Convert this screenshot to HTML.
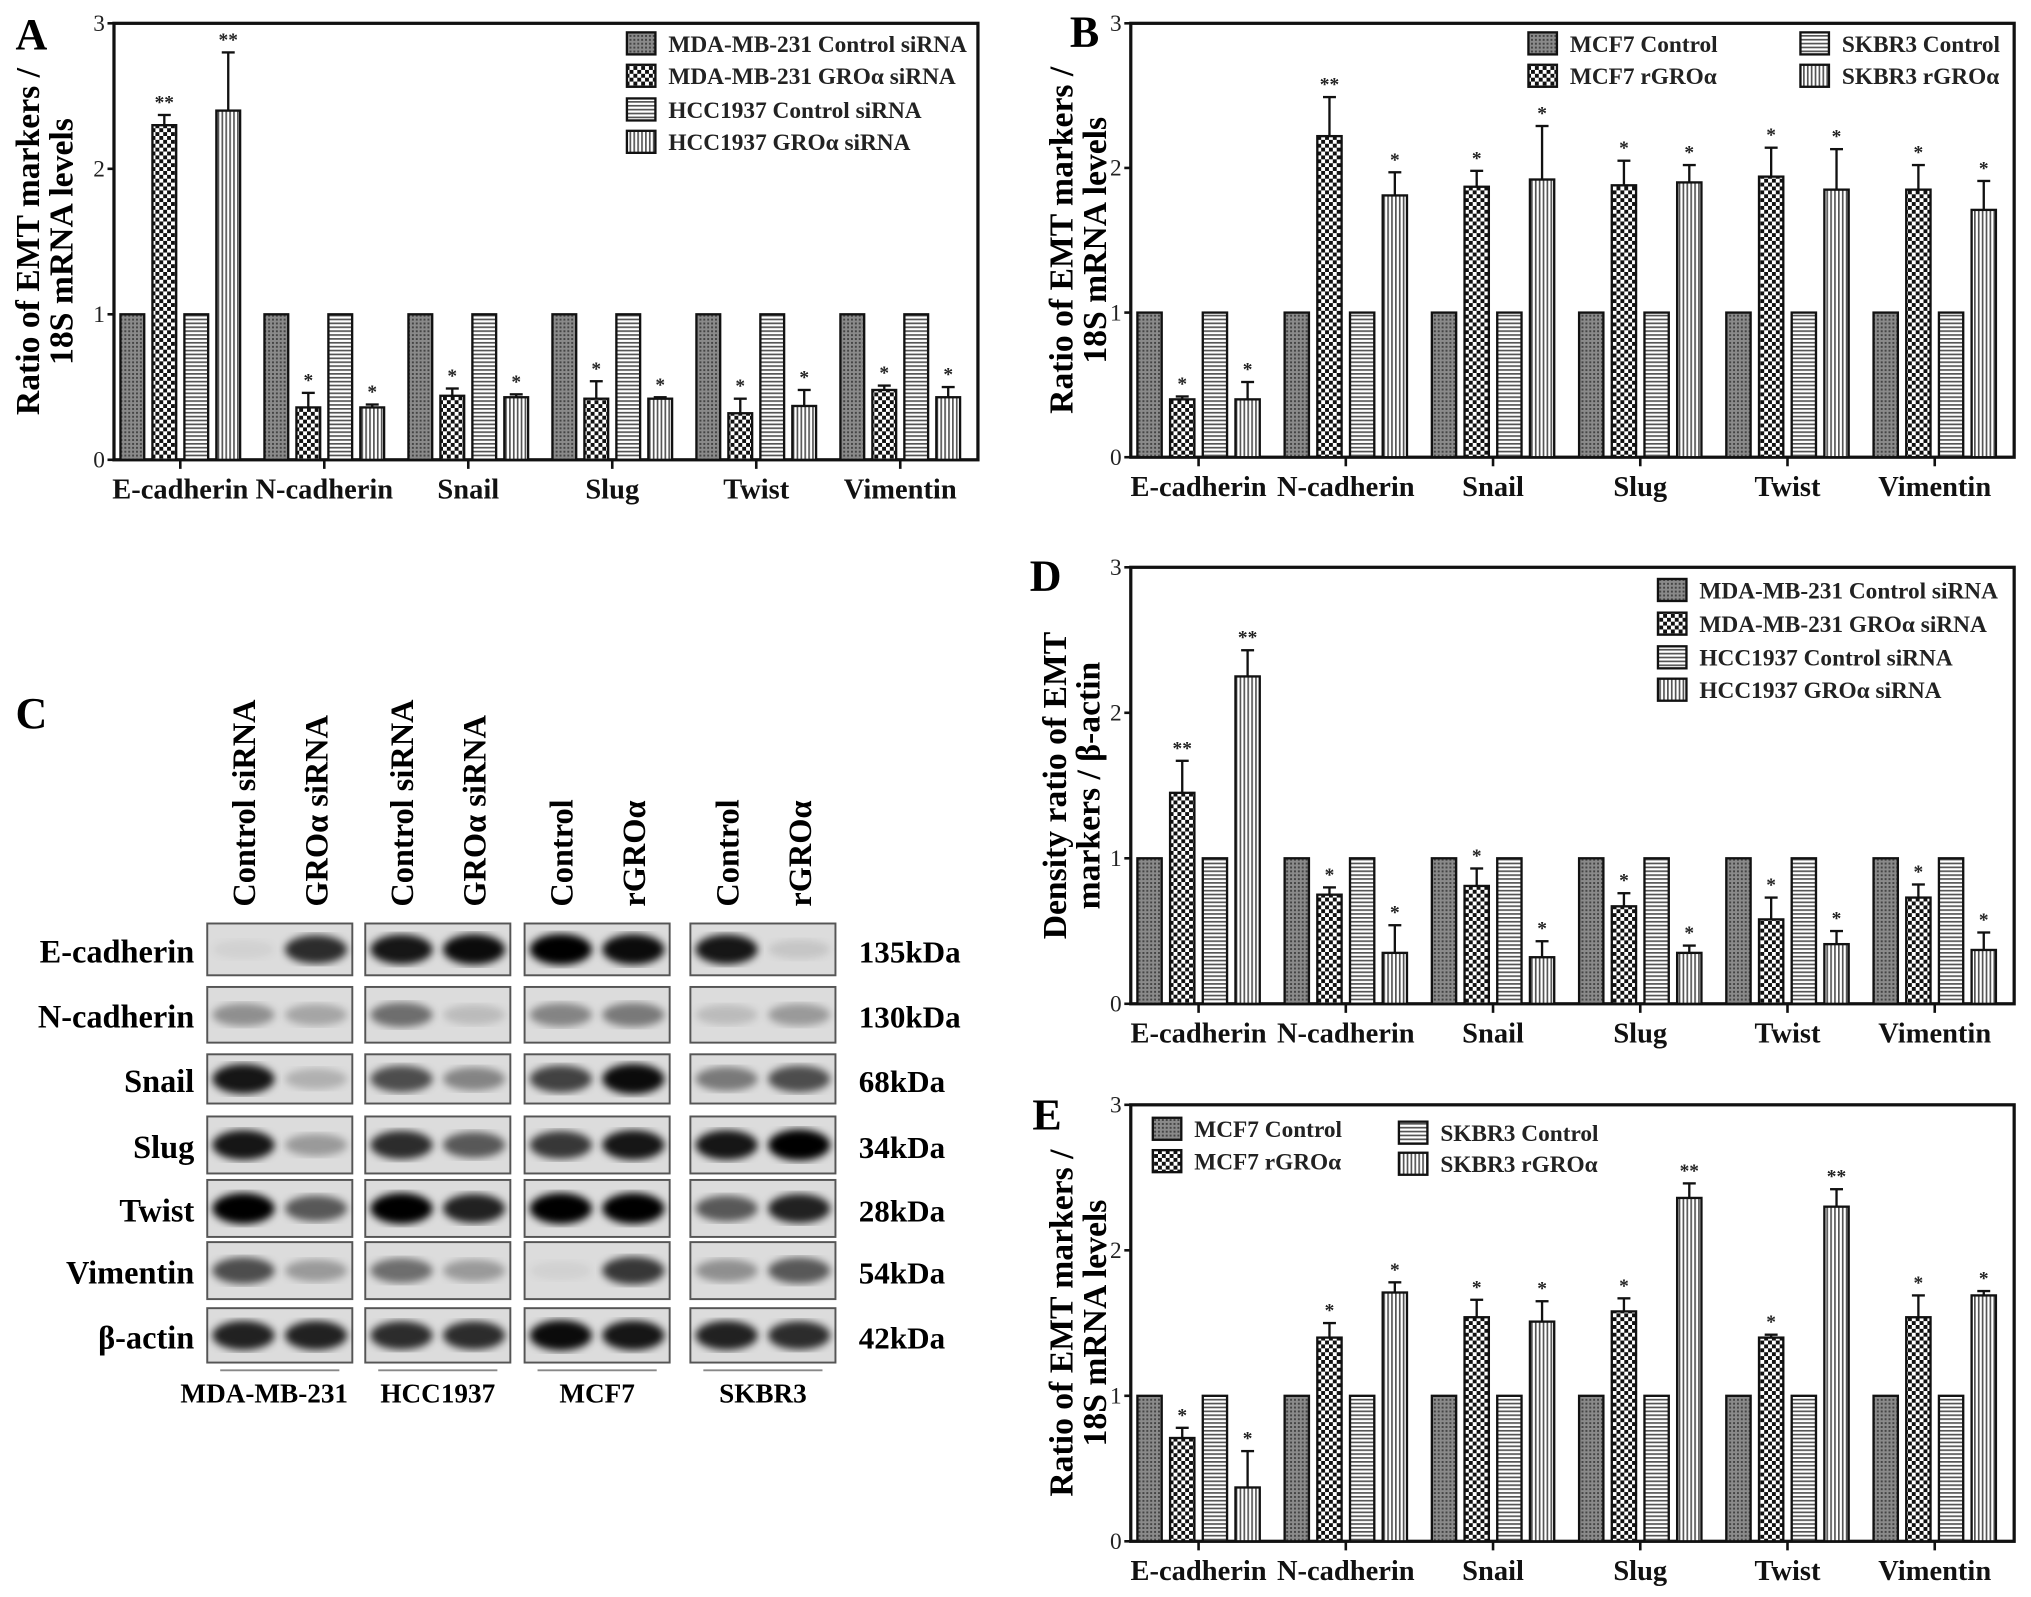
<!DOCTYPE html>
<html><head><meta charset="utf-8"><style>
html,body{margin:0;padding:0;background:#fff;}
svg{display:block;font-family:"Liberation Serif",serif;font-weight:bold;}
</style></head><body>
<svg id="fig" width="2031" height="1597" viewBox="0 0 1568 1233" preserveAspectRatio="none" xmlns="http://www.w3.org/2000/svg">
<defs>
<pattern id="pDense" width="3" height="3" patternUnits="userSpaceOnUse"><rect width="3" height="3" fill="#8a8a8a"/><rect width="1.5" height="1.5" fill="#444"/></pattern>
<pattern id="pCheck" width="6" height="6" patternUnits="userSpaceOnUse"><rect width="6" height="6" fill="#fff"/><rect width="3" height="3" fill="#111"/><rect x="3" y="3" width="3" height="3" fill="#111"/></pattern>
<pattern id="pHoriz" width="4" height="3" patternUnits="userSpaceOnUse"><rect width="4" height="3" fill="#fff"/><rect width="4" height="1.3" fill="#555"/></pattern>
<pattern id="pVert" width="3" height="4" patternUnits="userSpaceOnUse"><rect width="3" height="4" fill="#fff"/><rect width="1.3" height="4" fill="#555"/></pattern>
<filter id="blur"><feGaussianBlur stdDeviation="3"/></filter>
</defs>
<g id="charts"></g>
<g id="blots"></g>
</svg>
<script>
const NS='http://www.w3.org/2000/svg';
const categories=['E-cadherin','N-cadherin','Snail','Slug','Twist','Vimentin'];
const yTicks=[0,1,2,3];
// Panel A
const aSeries1=[1,1,1,1,1,1];
const aSeries2=[2.3,0.36,0.44,0.42,0.32,0.48];
const aErr2=[0.07,0.1,0.05,0.12,0.1,0.03];
const aSeries3=[1,1,1,1,1,1];
const aSeries4=[2.4,0.36,0.43,0.42,0.37,0.43];
const aErr4=[0.4,0.02,0.02,0.01,0.11,0.07];
const aStars2=['**','*','*','*','*','*'];
const aStars4=['**','*','*','*','*','*'];
const aLegend=['MDA-MB-231 Control siRNA','MDA-MB-231 GROα siRNA','HCC1937 Control siRNA','HCC1937 GROα siRNA'];
// Panel B
const bSeries1=[1,1,1,1,1,1];
const bSeries2=[0.4,2.22,1.87,1.88,1.94,1.85];
const bErr2=[0.02,0.27,0.11,0.17,0.2,0.17];
const bSeries3=[1,1,1,1,1,1];
const bSeries4=[0.4,1.81,1.92,1.9,1.85,1.71];
const bErr4=[0.12,0.16,0.37,0.12,0.28,0.2];
const bStars2=['*','**','*','*','*','*'];
const bStars4=['*','*','*','*','*','*'];
const bLegend=['MCF7 Control','MCF7 rGROα','SKBR3 Control','SKBR3 rGROα'];
// Panel D
const dSeries1=[1,1,1,1,1,1];
const dSeries2=[1.45,0.75,0.81,0.67,0.58,0.73];
const dErr2=[0.22,0.05,0.12,0.09,0.15,0.09];
const dSeries3=[1,1,1,1,1,1];
const dSeries4=[2.25,0.35,0.32,0.35,0.41,0.37];
const dErr4=[0.18,0.19,0.11,0.05,0.09,0.12];
const dStars2=['**','*','*','*','*','*'];
const dStars4=['**','*','*','*','*','*'];
// Panel E
const eSeries1=[1,1,1,1,1,1];
const eSeries2=[0.71,1.4,1.54,1.58,1.4,1.54];
const eErr2=[0.07,0.1,0.12,0.09,0.02,0.15];
const eSeries3=[1,1,1,1,1,1];
const eSeries4=[0.37,1.71,1.51,2.36,2.3,1.69];
const eErr4=[0.25,0.07,0.14,0.1,0.12,0.03];
const eStars2=['*','*','*','*','*','*'];
const eStars4=['*','*','*','**','**','*'];

const fills=['url(#pDense)','url(#pCheck)','url(#pHoriz)','url(#pVert)'];
function mk(tag,attrs,parent,text){const e=document.createElementNS(NS,tag);for(const k in attrs)e.setAttribute(k,attrs[k]);if(text!==undefined)e.textContent=text;parent.appendChild(e);return e;}

function chart(p){
  const root=document.getElementById('charts');
  const g=mk('g',{},root);
  
  
  const x0=p.x0,x1=p.x1,yTop=p.yTop,yBot=p.yBot;
  const yS=v=>yBot-(v/3)*(yBot-yTop);
  const band=(x1-x0)/categories.length;
  const xS=(ci,si)=>x0+ci*band+band*0.045+si*band*0.222;
  const bw=band*0.165;
  const lt=mk('text',{x:p.letterX,y:p.letterY,'font-size':34},g,p.letter);
  
  
  const frame=mk('rect',{x:x0,y:yTop,width:x1-x0,height:yBot-yTop,fill:'none',stroke:'#111','stroke-width':2.5},g);
  
  
  yTicks.forEach(t=>{
    const tl=mk('text',{x:x0-7,y:yS(t)+6,'font-size':18,'text-anchor':'end',fill:'#222','font-weight':'normal'},g,String(t));
    
    
    mk('line',{x1:x0-5,x2:x0,y1:yS(t),y2:yS(t),stroke:'#111','stroke-width':2},g);
  });
  const series=[p.s1,p.s2,p.s3,p.s4];
  const errs=[null,p.e2,null,p.e4];
  const stars=[null,p.st2,null,p.st4];
  categories.forEach((c,ci)=>{
    const cx=x0+ci*band+band*0.045+1.5*band*0.222+bw/2;
    mk('line',{x1:cx,x2:cx,y1:yBot,y2:yBot+7,stroke:'#111','stroke-width':2},g);
    const cl=mk('text',{x:cx,y:yBot+30,'font-size':22,'text-anchor':'middle',fill:'#111'},g,c);
    
    
    series.forEach((s,si)=>{
      const v=s[ci],bx=xS(ci,si);
      if(errs[si]){
        const top=yS(v+errs[si][ci]);
        mk('line',{x1:bx+bw/2,x2:bx+bw/2,y1:yS(v),y2:top,stroke:'#111','stroke-width':1.8},g);
        mk('line',{x1:bx+bw/2-5,x2:bx+bw/2+5,y1:top,y2:top,stroke:'#111','stroke-width':1.8},g);
        const st=mk('text',{x:bx+bw/2,y:top-5,'font-size':15,'text-anchor':'middle',fill:'#222'},g,stars[si][ci]);
        
        
      }
      const r=mk('rect',{x:bx,y:yS(v),width:bw,height:yBot-yS(v),fill:fills[si],stroke:'#111','stroke-width':1.8},g);
      
      
    });
  });
  const cy=(yTop+yBot)/2;
  const t1=mk('text',{x:0,y:0,'font-size':26,'text-anchor':'middle',transform:`translate(${p.titleX},${cy}) rotate(-90)`},g,p.title1);
  
  
  const t2=mk('text',{x:0,y:0,'font-size':26,'text-anchor':'middle',transform:`translate(${p.titleX+26},${cy}) rotate(-90)`},g,p.title2);
  
  
  p.legendPos.forEach((lp,i)=>{
    const le=mk('g',{},g);
    
    
    mk('rect',{x:lp[0],y:lp[1],width:22,height:17,fill:fills[i],stroke:'#111','stroke-width':1.8},le);
    mk('text',{x:lp[0]+32,y:lp[1]+15,'font-size':18,fill:'#222'},le,p.legend[i]);
  });
}
chart({name:'chart-a',letter:'A',letterX:12,letterY:38,x0:88,x1:755,yTop:18,yBot:355,s1:aSeries1,s2:aSeries2,e2:aErr2,s3:aSeries3,s4:aSeries4,e4:aErr4,st2:aStars2,st4:aStars4,
  title1:'Ratio of EMT markers /',title2:'18S mRNA levels',titleX:30,legend:aLegend,legendPos:[[484,25],[484,50],[484,76],[484,101]]});
chart({name:'chart-b',letter:'B',letterX:826,letterY:36,x0:873,x1:1555,yTop:18,yBot:353,s1:bSeries1,s2:bSeries2,e2:bErr2,s3:bSeries3,s4:bSeries4,e4:bErr4,st2:bStars2,st4:bStars4,
  title1:'Ratio of EMT markers /',title2:'18S mRNA levels',titleX:828,legend:bLegend,legendPos:[[1180,25],[1180,50],[1390,25],[1390,50]]});
chart({name:'chart-d',letter:'D',letterX:795,letterY:456,x0:873,x1:1555,yTop:438,yBot:775,s1:dSeries1,s2:dSeries2,e2:dErr2,s3:dSeries3,s4:dSeries4,e4:dErr4,st2:dStars2,st4:dStars4,
  title1:'Density ratio of EMT',title2:'markers / β-actin',titleX:823,legend:aLegend,legendPos:[[1280,447],[1280,473],[1280,499],[1280,524]]});
chart({name:'chart-e',letter:'E',letterX:797,letterY:872,x0:873,x1:1555,yTop:853,yBot:1190,s1:eSeries1,s2:eSeries2,e2:eErr2,s3:eSeries3,s4:eSeries4,e4:eErr4,st2:eStars2,st4:eStars4,
  title1:'Ratio of EMT markers /',title2:'18S mRNA levels',titleX:828,legend:bLegend,legendPos:[[890,863],[890,888],[1080,866],[1080,890]]});

const blotRows=['E-cadherin','N-cadherin','Snail','Slug','Twist','Vimentin','β-actin'];
const kda=['135kDa','130kDa','68kDa','34kDa','28kDa','54kDa','42kDa'];
const laneHeaders=['Control siRNA','GROα siRNA','Control siRNA','GROα siRNA','Control','rGROα','Control','rGROα'];
const cellLines=['MDA-MB-231','HCC1937','MCF7','SKBR3'];
const bandIntensity=[
 [0.05,0.8,0.9,0.95,1,0.95,0.9,0.1],
 [0.35,0.25,0.5,0.15,0.4,0.45,0.15,0.3],
 [0.9,0.2,0.65,0.4,0.7,0.95,0.45,0.65],
 [0.9,0.3,0.8,0.6,0.75,0.9,0.9,1],
 [1,0.6,1,0.85,1,1,0.6,0.85],
 [0.65,0.3,0.5,0.3,0.05,0.75,0.35,0.6],
 [0.85,0.85,0.8,0.8,0.95,0.9,0.85,0.8]];
(function(){
  const g=document.getElementById('blots');
  
  
  const cl=mk('text',{x:12,y:562,'font-size':34},g,'C');
  
  
  const boxX=[160,282,405,533], boxW=112;
  const rowY=[713,762,814,862,911,959,1010], rowH=[40,43,38,44,44,44,42];
  blotRows.forEach((r,ri)=>{
    const t=mk('text',{x:150,y:rowY[ri]+rowH[ri]/2+10,'font-size':25,'text-anchor':'end'},g,r);
    
    
    const k=mk('text',{x:663,y:rowY[ri]+rowH[ri]/2+10,'font-size':24},g,kda[ri]);
    
    
    boxX.forEach((bx,bi)=>{
      const b=mk('rect',{x:bx,y:rowY[ri],width:boxW,height:rowH[ri],fill:'#dcdcdc',stroke:'#555','stroke-width':1.5},g);
      
      
      [0,1].forEach(li=>{
        const v=bandIntensity[ri][bi*2+li];
        const e=mk('ellipse',{cx:bx+28+li*56,cy:rowY[ri]+rowH[ri]/2,rx:24,ry:7+v*5,fill:'#000','fill-opacity':v,filter:'url(#blur)'},g);
        
        
      });
    });
  });
  laneHeaders.forEach((h,i)=>{
    const x=boxX[Math.floor(i/2)]+28+(i%2)*56+9;
    const t=mk('text',{x:0,y:0,'font-size':25,transform:`translate(${x},${700}) rotate(-90)`},g,h);
    
    
  });
  cellLines.forEach((c,i)=>{
    mk('line',{x1:boxX[i]+10,x2:boxX[i]+boxW-10,y1:1058,y2:1058,stroke:'#888','stroke-width':1.5},g);
    const t=mk('text',{x:boxX[i]+boxW/2+(i===0?-12:0),y:1083,'font-size':21,'text-anchor':'middle'},g,c);
    
    
  });
})();
</script>
</body></html>
